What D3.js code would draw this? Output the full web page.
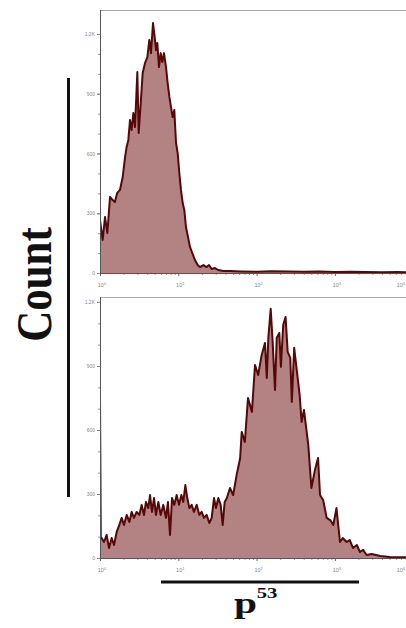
<!DOCTYPE html>
<html><head><meta charset="utf-8">
<script src="https://cdn.jsdelivr.net/npm/d3@7"></script>
<style>body{margin:0;background:#fff}svg{display:block}</style>
</head><body><svg id="c" width="406" height="628"></svg>
<script>
// ---- data ----
const xTickValues = [1, 10, 100, 1000, 10000];
const xTickExponents = ["0", "1", "2", "3", "4"];
const yTickValues = [0, 300, 600, 900, 1200];
const yTickLabels = ["0", "300", "600", "900", "1.2K"];
const yLabel = "Count";
const xLabel = "p";
const xLabelSup = "53";

// top panel: log10 fluorescence position and count
const topLog = [0,0.034,0.064,0.094,0.128,0.162,0.19,0.22,0.255,0.29,0.32,0.34,0.362,0.383,0.404,0.426,0.447,0.477,0.494,0.52,0.545,0.575,0.605,0.63,0.651,0.677,0.698,0.715,0.732,0.753,0.775,0.796,0.817,0.843,0.864,0.886,0.907,0.928,0.949,0.971,0.992,1.013,1.034,1.056,1.077,1.098,1.124,1.149,1.179,1.213,1.247,1.277,1.32,1.362,1.392,1.426,1.469,1.511,1.575,1.66,1.8,2.0,2.2,2.4,2.6,2.8,3.0,3.2,3.4,3.6,3.8,4.0];
const topCounts = [266,166,281,201,382,366,356,402,417,482,582,633,668,768,718,803,733,1009,703,853,1004,1054,1084,1170,1104,1255,1185,1119,1155,1034,1104,1059,1104,1034,954,884,833,783,818,653,602,502,417,351,316,231,181,131,100,65,40,30,40,30,40,20,25,15,10,10,8,6,9,7,6,8,5,6,5,4,5,3];

// bottom panel
const botLog = [0,0.01,0.021,0.051,0.085,0.115,0.149,0.179,0.213,0.247,0.277,0.306,0.341,0.375,0.404,0.434,0.468,0.502,0.532,0.562,0.587,0.617,0.639,0.664,0.69,0.715,0.745,0.775,0.809,0.843,0.868,0.894,0.92,0.949,0.979,1.009,1.039,1.064,1.09,1.115,1.141,1.171,1.2,1.235,1.269,1.298,1.328,1.362,1.396,1.426,1.456,1.481,1.511,1.541,1.567,1.592,1.62,1.66,1.70,1.745,1.79,1.81,1.85,1.89,1.94,1.98,2.02,2.065,2.107,2.13,2.15,2.18,2.205,2.235,2.257,2.29,2.31,2.34,2.37,2.397,2.43,2.45,2.48,2.52,2.55,2.575,2.605,2.66,2.70,2.745,2.785,2.81,2.85,2.895,2.94,2.98,3.02,3.065,3.10,3.15,3.19,3.23,3.28,3.32,3.36,3.405,3.47,3.58,3.70,3.91,4.0];
const botCounts = [750,90,94,75,108,47,94,61,122,155,188,155,202,169,216,188,216,202,249,202,263,234,295,216,281,202,263,202,249,188,263,108,281,249,295,249,295,263,342,281,234,249,216,249,202,216,188,202,164,188,281,234,281,249,155,263,281,328,295,389,469,591,544,750,685,905,858,952,1008,844,1032,1168,1013,788,1032,1055,896,1093,1130,966,938,732,985,858,764,638,694,530,328,413,469,295,272,188,178,155,234,75,94,75,84,47,61,28,38,14,19,9,5,4,3];

// ---- drawing ----
const W = 406;
const svg = d3.select("#c");
const x = d3.scaleLog().domain([1, 1e4]).range([100, 413.2]);
const FILL = "#b38282", STROKE = "#560808", AX = "#666", LBL = "#888";

const panels = [
  { log: topLog, counts: topCounts, top: 10, y: d3.scaleLinear().domain([0, 1200]).range([273, 34]) },
  { log: botLog, counts: botCounts, top: 297, y: d3.scaleLinear().domain([0, 1200]).range([558, 302]) }
];

panels.forEach((p, pi) => {
  const base = p.y(0);
  const data = d3.zip(p.log, p.counts).map(([l, c]) => ({ v: Math.pow(10, l), c }));
  const g = svg.append("g");
  const cid = "clip" + pi;
  svg.append("clipPath").attr("id", cid).append("rect")
    .attr("x", 100).attr("y", p.top).attr("width", 320).attr("height", base - p.top);

  // frame top
  g.append("line").attr("x1", 100).attr("x2", 420).attr("y1", p.top + 0.5).attr("y2", p.top + 0.5)
    .attr("stroke", "#aaa").attr("stroke-width", 1);

  const area = d3.area().x(d => x(d.v)).y0(base).y1(d => p.y(d.c));
  const line = d3.line().x(d => x(d.v)).y(d => p.y(d.c));
  const hg = g.append("g").attr("clip-path", `url(#${cid})`);
  hg.append("path").datum(data).attr("d", area).attr("fill", FILL);
  hg.append("path").datum(data).attr("d", line).attr("fill", "none")
    .attr("stroke", STROKE).attr("stroke-width", 2).attr("stroke-linejoin", "round");

  // y axis
  const ya = g.append("g").attr("transform", "translate(100,0)")
    .call(d3.axisLeft(p.y).tickValues(yTickValues).tickSize(3).tickPadding(2)
      .tickFormat((d, i) => yTickLabels[i]));
  ya.select(".domain").remove();
  ya.selectAll("line").attr("stroke", AX);
  ya.selectAll("text").attr("font-size", 5).attr("fill", LBL).attr("font-family", "Arial, sans-serif");
  const ym = g.append("g").attr("transform", "translate(100,0)")
    .call(d3.axisLeft(p.y).tickValues(d3.range(0, 1201, 100)).tickSize(2).tickFormat(""));
  ym.select(".domain").remove();
  ym.selectAll("line").attr("stroke", "#999");
  g.append("line").attr("x1", 100.5).attr("x2", 100.5).attr("y1", p.top).attr("y2", base + 2)
    .attr("stroke", "#555").attr("stroke-width", 1);

  // x axis
  const xa = g.append("g").attr("transform", `translate(0,${base})`)
    .call(d3.axisBottom(x).tickValues(xTickValues).tickSize(3).tickFormat(""));
  xa.select(".domain").remove();
  xa.selectAll("line").attr("stroke", AX);
  const minors = x.ticks().filter(v => !xTickValues.includes(v));
  const xm = g.append("g").attr("transform", `translate(0,${base})`)
    .call(d3.axisBottom(x).tickValues(minors).tickSize(2).tickFormat(""));
  xm.select(".domain").remove();
  xm.selectAll("line").attr("stroke", "#999");
  g.append("line").attr("x1", 100).attr("x2", 420).attr("y1", base + 0.5).attr("y2", base + 0.5)
    .attr("stroke", "#555").attr("stroke-width", 1);

  xTickValues.forEach((v, i) => {
    const px = x(v) + 2;
    const atEdge = px > W - 8;
    const t = g.append("text").attr("x", atEdge ? W - 1 : px).attr("y", base + 14)
      .attr("text-anchor", atEdge ? "end" : "middle").attr("font-size", 5.5).attr("fill", LBL)
      .attr("font-family", "Arial, sans-serif");
    t.append("tspan").text("10");
    t.append("tspan").attr("dy", -2.5).attr("font-size", 4).text(xTickExponents[i]);
  });
});

// y label and bar
svg.append("line").attr("x1", 68.5).attr("x2", 68.5).attr("y1", 78).attr("y2", 497)
  .attr("stroke", "#111").attr("stroke-width", 3);
svg.append("text").attr("transform", "translate(51,284.5) rotate(-90) scale(1,1.17)")
  .attr("text-anchor", "middle").attr("font-family", "'Liberation Serif', 'Times New Roman', serif")
  .attr("font-weight", "bold").attr("font-size", 43).attr("fill", "#111").text(yLabel);

// x label and bar
svg.append("line").attr("x1", 161).attr("x2", 359).attr("y1", 582).attr("y2", 582)
  .attr("stroke", "#111").attr("stroke-width", 3);
const xl = svg.append("g").attr("transform", "translate(234,613) scale(1.38,1)");
xl.append("text").attr("x", 0).attr("y", 0)
  .attr("font-family", "'Liberation Serif', 'Times New Roman', serif")
  .attr("font-weight", "bold").attr("font-size", 30).attr("fill", "#111").text(xLabel);
xl.append("text").attr("x", 16.5).attr("y", -15)
  .attr("font-family", "'Liberation Serif', 'Times New Roman', serif")
  .attr("font-weight", "bold").attr("font-size", 15).attr("fill", "#111").text(xLabelSup);
</script>
</body></html>
